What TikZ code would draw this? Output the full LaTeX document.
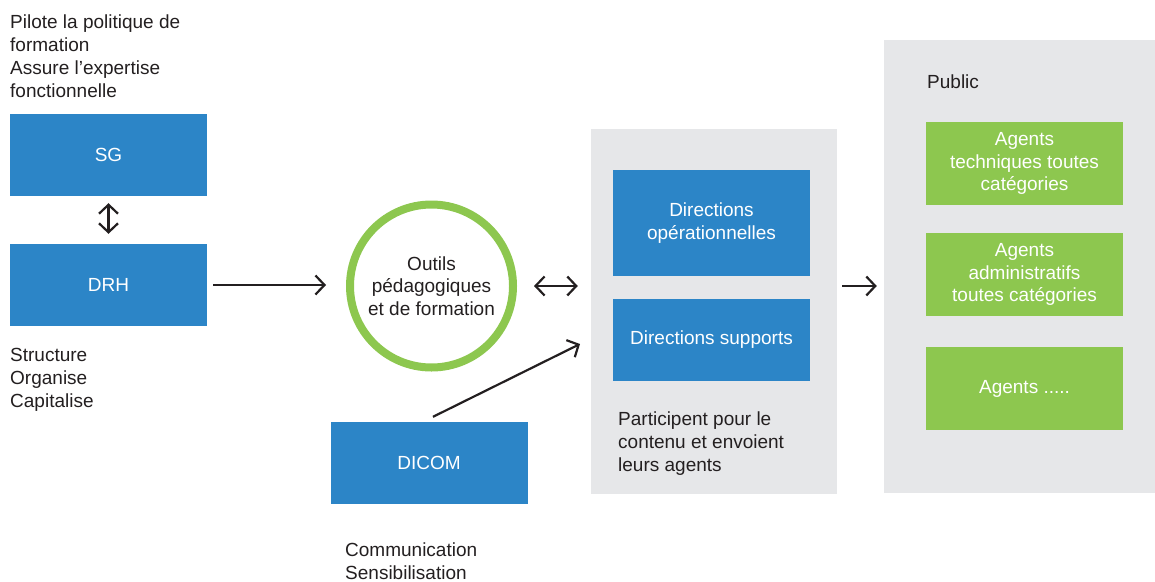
\documentclass[tikz,border=0pt]{standalone}
\usepackage{fontspec}
\setmainfont{Liberation Sans}
\usetikzlibrary{arrows.meta}
\definecolor{boxblue}{HTML}{2C85C7}
\definecolor{boxgreen}{HTML}{8DC74F}
\definecolor{panelgrey}{HTML}{E6E7E9}
\definecolor{txt}{HTML}{231F20}
\tikzset{
  bluebox/.style={fill=boxblue, text=white, minimum width=197pt, minimum height=82pt, inner sep=0pt, align=center},
  greenbox/.style={fill=boxgreen, text=white, minimum width=197pt, minimum height=83pt, inner sep=0pt, align=center},
  panel/.style={fill=panelgrey, inner sep=0pt},
  note/.style={text=txt, align=left, anchor=base west, inner sep=0pt},
  barb/.tip={Straight Barb[length=9pt,width=19pt]},
  arr/.style={draw=txt, line width=2.2pt, -barb},
  dblarr/.style={draw=txt, line width=2.2pt, barb-barb}
}
\begin{document}
\begin{tikzpicture}[x=1pt,y=-1pt,font=\fontsize{19}{22.7}\selectfont]
\useasboundingbox (0,0) rectangle (1155,581);
% panels
\node[panel, minimum width=246pt, minimum height=365pt] (p1) at (714,311.5) {};
\node[panel, minimum width=271pt, minimum height=453pt] (p2) at (1019.5,266.5) {};
% left column (base anchor = baseline of last line)
\node[note] (t1) at (10,97) {Pilote la politique de\\formation\\Assure l’expertise\\fonctionnelle};
\node[bluebox] (sg) at (108.5,155) {SG};
\node[bluebox] (drh) at (108.5,285) {DRH};
\node[note] (t2) at (10,407) {Structure\\Organise\\Capitalise};
% centre
\node[circle, draw=boxgreen, line width=8pt, minimum size=163pt, inner sep=0pt, text=txt, align=center] (outils) at (431.5,286) {Outils\\pédagogiques\\et de formation};
\node[bluebox] (dicom) at (429,463) {DICOM};
\node[note] (t3) at (345,579) {Communication\\Sensibilisation};
% directions
\node[bluebox, minimum height=106pt] (dirop) at (711.5,223) {Directions\\opérationnelles};
\node[bluebox] (dirsup) at (711.5,340) {Directions supports};
\node[note] (t4) at (618,471) {Participent pour le\\contenu et envoient\\leurs agents};
% public
\node[note] (t5) at (927,88) {Public};
\node[greenbox] (g1) at (1024.5,163.5) {Agents\\techniques toutes\\catégories};
\node[greenbox] (g2) at (1024.5,274.5) {Agents\\administratifs\\toutes catégories};
\node[greenbox] (g3) at (1024.5,388.5) {Agents .....};
% connectors
\coordinate (diagtip) at (580,344);
\draw[dblarr, shorten <=7pt, shorten >=10pt] (sg.south) -- (drh.north);
\draw[arr, shorten <=6pt, shorten >=20pt] (drh.east) -- (drh.east -| outils.west);
\draw[dblarr, shorten <=17pt, shorten >=13pt] (outils.east) -- (outils.east -| p1.west);
\draw[arr] ([xshift=4pt,yshift=5pt]dicom.north) -- (diagtip);
\draw[arr, shorten <=5pt, shorten >=7pt] (outils.east -| p1.east) -- (outils.east -| p2.west);
\end{tikzpicture}
\end{document}
